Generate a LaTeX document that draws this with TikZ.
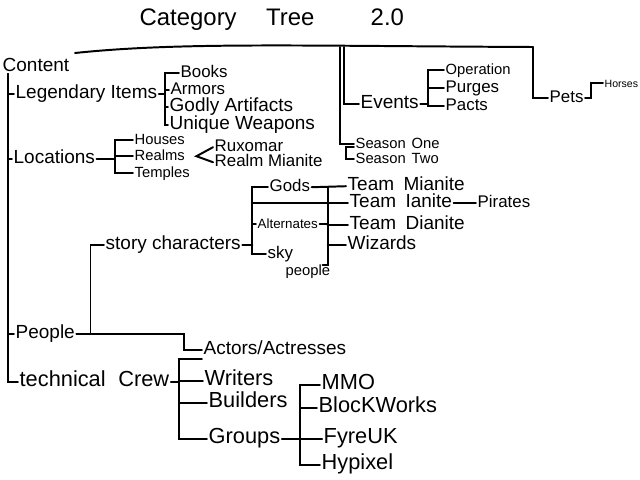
\documentclass[tikz,border=0pt]{standalone}
\usepackage{fontspec}
\setmainfont{Liberation Sans}
\usetikzlibrary{calc}

\begin{document}
\begin{tikzpicture}[x=0.025cm, y=-0.025cm, line width=1.4pt, line cap=round,
    lbl/.style={anchor=west, inner sep=0.5pt, yshift=-3pt, text height=0.75em, text depth=0.2em,
      font=\fontsize{13.5}{15}\selectfont},
    big/.style={lbl, font=\fontsize{15.5}{17}\selectfont},
    mid/.style={lbl, font=\fontsize{12}{14}\selectfont},
    sml/.style={lbl, font=\fontsize{10.5}{12}\selectfont}]
  \useasboundingbox (0,0) rectangle (640,480);

  \node[lbl, font=\fontsize{17}{20}\selectfont] (title) at (138,17) {Category\hspace{21pt}Tree\hspace{40pt}2.0};

  % left column
  \node[lbl] (content) at (1,63) {Content};
  \node[lbl] (legend) at (14,90) {Legendary Items};
  \node[lbl] (loc) at (12,155) {Locations};
  \node[lbl] (people) at (14,330) {People};
  \node[big] (tc) at (18,378) {technical\hspace{9pt}Crew};

  \node[mid] (books) at (179,69) {Books};
  \node[mid] (armors) at (169,86) {Armors};
  \node[lbl] (godly) at (168,103) {Godly Artifacts};
  \node[lbl] (unique) at (168,121) {Unique Weapons};

  \node[sml] (houses) at (133,136) {Houses};
  \node[sml] (realms) at (133,152) {Realms};
  \node[sml] (temples) at (133,169) {Temples};
  \node[mid] (rux) at (213,143) {Ruxomar};
  \node[mid] (rmian) at (213,158) {Realm Mianite};

  % story characters
  \node[lbl] (sc) at (104,241) {story characters};
  \node[mid] (gods) at (268,183) {Gods};
  \node[sml, font=\fontsize{9.5}{11}\selectfont] (alt) at (256,220) {Alternates};
  \node[mid] (sky) at (266,250) {sky};
  \node[sml] (skyp) at (284,267) {people};
  \node[lbl] (mianite) at (346,182) {Team\hspace{0.5em}Mianite};
  \node[lbl] (ianite) at (348,199) {Team\hspace{0.5em}Ianite};
  \node[mid] (pirates) at (476,199) {Pirates};
  \node[lbl] (dianite) at (348,221) {Team\hspace{0.5em}Dianite};
  \node[lbl] (wizards) at (346,241) {Wizards};

  % crew
  \node[lbl] (actors) at (202,346) {Actors/Actresses};
  \node[big] (writers) at (203,377) {Writers};
  \node[big] (builders) at (207,399) {Builders};
  \node[big] (groups) at (207,435) {Groups};
  \node[big] (mmo) at (320,381) {MMO};
  \node[big] (blockworks) at (317,404) {BlocKWorks};
  \node[big] (fyreuk) at (322,435) {FyreUK};
  \node[big] (hypixel) at (320,461) {Hypixel};

  % right side
  \node[lbl] (events) at (359,100) {Events};
  \node[sml] (operation) at (444,66) {Operation};
  \node[mid] (purges) at (444,84) {Purges};
  \node[mid] (pacts) at (444,102) {Pacts};
  \node[sml] (s1) at (354,140) {Season\hspace{0.4em}One};
  \node[sml] (s2) at (354,155) {Season\hspace{0.4em}Two};
  \node[mid] (pets) at (548,94) {Pets};
  \node[lbl, font=\fontsize{7.5}{9}\selectfont] (horses) at (603,79) {Horses};

  \coordinate (spine) at (8,74);
  \coordinate (t0) at (75,53);
  \coordinate (t1) at (533,47);
  \coordinate (sA) at (340,47);
  \coordinate (sB) at (344,47);

  \foreach \n in {legend,loc,people,tc}
    \draw (spine) |- (\n.west);

  \draw (legend.east) -- ++(6,0) coordinate (lgB);
  \foreach \n in {books,armors,godly,unique}
    \draw (lgB) |- (\n.west);

  \draw (loc.east) -- ++(18,0) coordinate (loB);
  \foreach \n in {houses,realms,temples}
    \draw (loB) |- (\n.west);
  \draw (rux.west) -- ($(realms.east)+(10,0)$) -- (rmian.west);

  \draw (t0) .. controls (180,42) and (300,46) .. (t1);
  \draw (t1) |- (pets.west);
  \draw (pets.east) -- ++(6,0) |- (horses.west);
  \draw (sA) |- (s1.west);
  \draw (sB) |- (events.west);
  \draw ($(s2.west)+(0,-12)$) -- ++(-8,0) |- (s2.west);
  \draw (events.east) -- ++(8,0) coordinate (evB);
  \foreach \n in {operation,purges,pacts}
    \draw (evB) |- (\n.west);

  \draw (people.east) -- ++(14,0) |- (sc.west);
  \draw (people.east) -| ($(actors.west)+(-18,0)$) -- (actors.west);

  \draw (sc.east) -- ++(10,0) coordinate (gL);
  \foreach \n in {gods,alt,sky}
    \draw (gL) |- (\n.west);
  \draw (gL |- ianite.west) -- (ianite.west);
  \draw (gods.east) -- (mianite.west);
  \coordinate (gR) at ($(gods.east)+(16,0)$);
  \draw (gR) -- ++(0,78) -- ++(-5,0);
  \draw (alt.east) -- (gR |- alt.east);
  \foreach \n in {dianite,wizards}
    \draw (gR |- \n.west) -- (\n.west);
  \draw (ianite.east) -- (pirates.west);

  \draw (tc.east) -- ++(8,0) coordinate (tcB);
  \draw (tcB) |- (actors.south west);
  \foreach \n in {writers,builders,groups}
    \draw (tcB) |- (\n.west);
  \coordinate (gpB) at ($(groups.east)+(18,0)$);
  \draw (groups.east) -- (fyreuk.west);
  \foreach \n in {mmo,blockworks,fyreuk,hypixel}
    \draw (gpB) |- (\n.west);
\end{tikzpicture}
\end{document}
